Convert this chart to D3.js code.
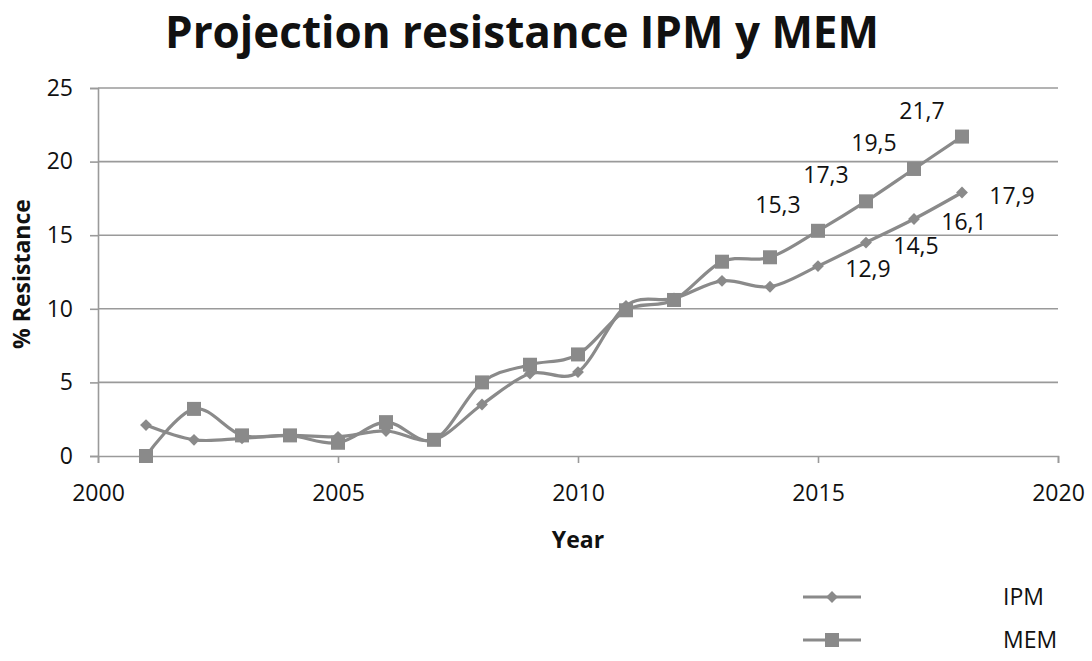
<!DOCTYPE html>
<html><head><meta charset="utf-8">
<script src="https://cdn.jsdelivr.net/npm/d3@7"></script>
<style>html,body{margin:0;padding:0;background:#fff;}svg{display:block;}</style>
</head><body>
<script>
const years = [2001,2002,2003,2004,2005,2006,2007,2008,2009,2010,2011,2012,2013,2014,2015,2016,2017,2018];
const ipm = [2.1,1.1,1.2,1.4,1.3,1.7,1.1,3.5,5.6,5.7,10.2,10.7,11.9,11.5,12.9,14.5,16.1,17.9];
const mem = [0.0,3.2,1.4,1.4,0.9,2.3,1.1,5.0,6.2,6.9,9.9,10.6,13.2,13.5,15.3,17.3,19.5,21.7];
const labelledYears = [2015,2016,2017,2018];
const xTicks = [2000,2005,2010,2015,2020];
const yTicks = [0,5,10,15,20,25];
const seriesNames = ["IPM","MEM"];

const W=1092,H=661;
const font = "'Open Sans', 'Liberation Sans', sans-serif";
const grey = "#8a8a8a";
const fs = 23;
const svg = d3.select("body").append("svg").attr("width",W).attr("height",H);

const x = d3.scaleLinear().domain([2000,2020]).range([98,1058]);
const y = d3.scaleLinear().domain([0,25]).range([456,88]);

// gridlines
svg.append("g").selectAll("line").data(yTicks.filter(d=>d>0)).join("line")
  .attr("x1",x(2000)).attr("x2",x(2020)).attr("y1",d=>y(d)).attr("y2",d=>y(d))
  .attr("stroke","#9a9a9a").attr("stroke-width",1.6);

// axes
const yAxis = svg.append("g").attr("transform",`translate(${x(2000)},0)`)
  .call(d3.axisLeft(y).tickValues(yTicks).tickSize(8).tickPadding(17));
const xAxis = svg.append("g").attr("transform",`translate(0,${y(0)})`)
  .call(d3.axisBottom(x).tickValues(xTicks).tickFormat(d3.format("d")).tickSize(7).tickPadding(22));
[yAxis,xAxis].forEach(a=>{
  a.select(".domain").attr("stroke","#9a9a9a").attr("stroke-width",1.6);
  a.selectAll(".tick line").attr("stroke","#9a9a9a").attr("stroke-width",1.6);
  a.selectAll("text").attr("font-family",font).attr("font-size",fs).attr("fill","#111");
});

const line = d3.line().x((d,i)=>x(years[i])).y(d=>y(d)).curve(d3.curveCatmullRom.alpha(0));
[ipm, mem].forEach(s=>{
  svg.append("path").datum(s).attr("d",line).attr("fill","none")
    .attr("stroke",grey).attr("stroke-width",3.2);
});
// markers
svg.append("g").selectAll("path").data(ipm).join("path")
  .attr("d", d3.symbol().type(d3.symbolSquare).size(70))
  .attr("transform",(d,i)=>`translate(${x(years[i])},${y(d)}) rotate(45)`)
  .attr("fill",grey);
svg.append("g").selectAll("rect").data(mem).join("rect")
  .attr("x",(d,i)=>x(years[i])-7).attr("y",d=>y(d)-7).attr("width",14).attr("height",14)
  .attr("fill",grey);

// data labels
const fmt = v=>v.toFixed(1).replace(".",",");
labelledYears.forEach(yr=>{
  const i = years.indexOf(yr);
  svg.append("text").attr("x",x(yr)+50).attr("y",y(ipm[i])+3).attr("dy","0.35em")
    .attr("text-anchor","middle").attr("font-family",font).attr("font-size",fs).attr("fill","#111")
    .text(fmt(ipm[i]));
  svg.append("text").attr("x",x(yr)-40).attr("y",y(mem[i])-26).attr("dy","0.35em")
    .attr("text-anchor","middle").attr("font-family",font).attr("font-size",fs).attr("fill","#111")
    .text(fmt(mem[i]));
});

// title
svg.append("text").attr("x",522).attr("y",48).attr("text-anchor","middle")
  .attr("font-family",font).attr("font-weight","bold").attr("font-size",44).attr("fill","#111")
  .text("Projection resistance IPM y MEM");
// axis titles
svg.append("text").attr("x",578).attr("y",548).attr("text-anchor","middle")
  .attr("font-family",font).attr("font-weight","bold").attr("font-size",fs).attr("fill","#111").text("Year");
svg.append("text").attr("transform","translate(30,274) rotate(-90)").attr("text-anchor","middle")
  .attr("font-family",font).attr("font-weight","bold").attr("font-size",fs).attr("fill","#111").text("% Resistance");

// legend
const leg = svg.append("g");
seriesNames.forEach((n,k)=>{
  const ly = 597 + k*43;
  leg.append("line").attr("x1",803).attr("x2",861).attr("y1",ly).attr("y2",ly).attr("stroke",grey).attr("stroke-width",3.2);
  if(k===0){
    leg.append("path").attr("d",d3.symbol().type(d3.symbolSquare).size(70)).attr("transform",`translate(832,${ly}) rotate(45)`).attr("fill",grey);
  } else {
    leg.append("rect").attr("x",825).attr("y",ly-7).attr("width",14).attr("height",14).attr("fill",grey);
  }
  leg.append("text").attr("x",1003).attr("y",ly).attr("dy","0.35em").attr("font-family",font)
    .attr("font-size",fs).attr("fill","#111").text(n);
});
</script>
</body></html>
